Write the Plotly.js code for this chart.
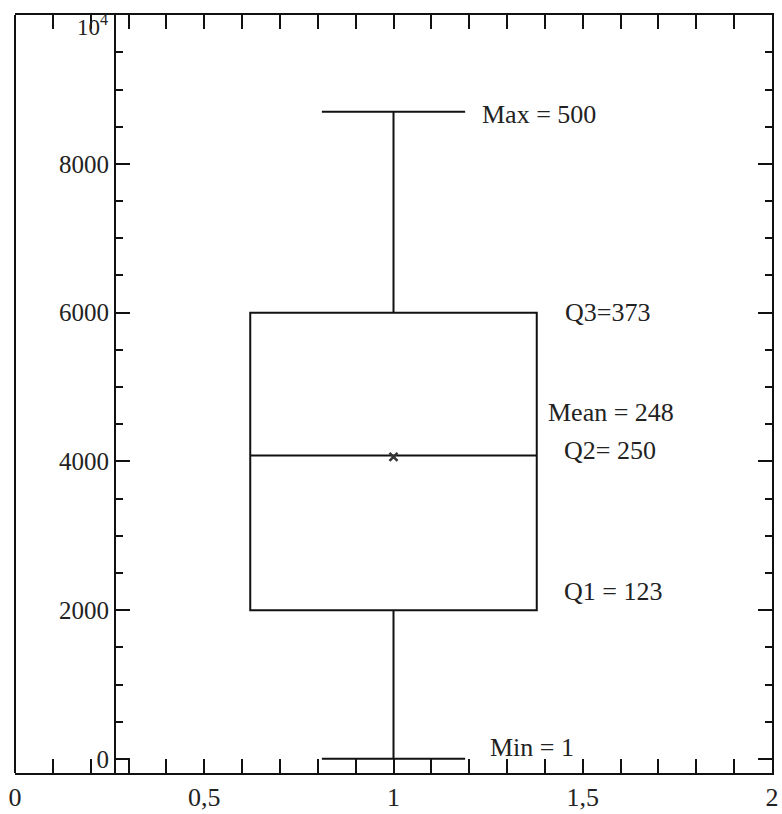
<!DOCTYPE html>
<html><head><meta charset="utf-8">
<script src="https://cdn.plot.ly/plotly-3.0.1.min.js"></script>
<style>html,body{margin:0;padding:0;background:#fff}#chart{width:782px;height:814px}</style>
</head><body><div id="chart"></div>
<script>
// ---- data ----
const categories = [1];
const q1 = [2000];
const median = [4080];
const q3 = [6000];
const lowerFence = [0];
const upperFence = [8700];
const meanValue = [4060];
const xTickVals = [0, 0.5, 1, 1.5, 2];
const xTickText = ['0', '0,5', '1', '1,5', '2'];
const yTickVals = [0, 2000, 4000, 6000, 8000, 10000];
const yTickText = ['0', '2000', '4000', '6000', '8000', ''];
const yTopLabel = '10<sup>4</sup>';
const yTopValue = 10000;
const labelTexts = ['Max = 500', 'Q3=373', 'Mean = 248', 'Q2= 250', 'Q1 = 123', 'Min = 1'];
const labelX = [1.229, 1.448, 1.403, 1.445, 1.445, 1.25];
const labelY = [8668, 6003, 4657, 4145, 2248, 148];

const FONT = 'Liberation Serif, Times New Roman, serif';
const INK = '#111';
const YAXIS_POS = 0.132;

const traces = [
  {
    type: 'box', x: categories, q1: q1, median: median, q3: q3,
    lowerfence: lowerFence, upperfence: upperFence,
    width: 0.757, whiskerwidth: 0.5,
    line: {color: INK, width: 2}, fillcolor: 'rgba(255,255,255,0)',
    boxpoints: false, showlegend: false, hoverinfo: 'skip', yaxis: 'y'
  },
  {
    type: 'scatter', mode: 'markers', x: categories, y: meanValue,
    marker: {symbol: 'x-thin', size: 8, line: {color: '#333', width: 2.5}},
    showlegend: false, hoverinfo: 'skip', yaxis: 'y'
  }
];

const annotations = labelTexts.map((t, i) => ({
  text: t, x: labelX[i], y: labelY[i], xref: 'x', yref: 'y',
  xanchor: 'left', yanchor: 'middle', showarrow: false,
  font: {family: FONT, size: 26, color: '#222'}
}));
annotations.push({
  text: yTopLabel, x: YAXIS_POS, y: yTopValue, xref: 'paper', yref: 'y',
  xanchor: 'right', yanchor: 'top', xshift: -5, yshift: 6, showarrow: false,
  font: {family: FONT, size: 23, color: '#222'}
});

const yRange = [-190, 10002];

const layout = {
  width: 782, height: 814,
  margin: {l: 15, r: 10, t: 15, b: 41},
  paper_bgcolor: '#fff', plot_bgcolor: '#fff',
  showlegend: false,
  font: {family: FONT, color: INK},
  xaxis: {
    range: [0, 2], showgrid: false, zeroline: false,
    showline: true, linecolor: INK, linewidth: 2, mirror: 'allticks',
    tickmode: 'array', tickvals: xTickVals, ticktext: xTickText,
    ticks: 'inside', ticklen: 14, tickwidth: 2, tickcolor: INK,
    minor: {dtick: 0.1, tick0: 0, ticks: 'inside', ticklen: 6, tickwidth: 2, tickcolor: INK, showgrid: false},
    tickfont: {family: FONT, size: 26, color: '#222'}
  },
  yaxis: {
    range: yRange, showgrid: false, zeroline: false,
    side: 'right', showline: true, linecolor: INK, linewidth: 2,
    showticklabels: false,
    tickmode: 'array', tickvals: yTickVals,
    ticks: 'inside', ticklen: 14, tickwidth: 2, tickcolor: INK,
    minor: {dtick: 500, tick0: 0, ticks: 'inside', ticklen: 7, tickwidth: 2, tickcolor: INK, showgrid: false}
  },
  yaxis2: {
    range: yRange, overlaying: 'y', anchor: 'free', position: YAXIS_POS,
    showgrid: false, zeroline: false,
    showline: true, linecolor: INK, linewidth: 2,
    tickmode: 'array', tickvals: yTickVals, ticktext: yTickText,
    ticks: 'inside', ticklen: 14, tickwidth: 2, tickcolor: INK,
    minor: {dtick: 500, tick0: 0, ticks: 'inside', ticklen: 7, tickwidth: 2, tickcolor: INK, showgrid: false},
    tickfont: {family: FONT, size: 25, color: '#222'}
  },
  shapes: [
    {type: 'line', xref: 'paper', yref: 'paper', x0: 0, x1: 0, y0: 0, y1: 1, line: {color: INK, width: 2}}
  ],
  annotations: annotations
};

// empty trace on yaxis2 so that the inner axis is drawn
traces.push({type: 'scatter', x: [], y: [], yaxis: 'y2', showlegend: false, hoverinfo: 'skip'});

Plotly.newPlot('chart', traces, layout, {staticPlot: true, displayModeBar: false});
</script>
</body></html>
